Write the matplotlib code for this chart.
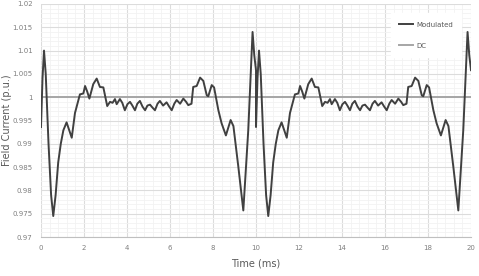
import numpy as np
import matplotlib
matplotlib.use("Agg")
import matplotlib.pyplot as plt
from matplotlib.ticker import MultipleLocator

# one 10 ms period of the modulated field current
t_period = [0, 0.07, 0.14, 0.22, 0.35, 0.47, 0.57, 0.68, 0.8, 0.92, 1.04, 1.19, 1.32,
            1.43, 1.58, 1.81, 1.97, 2.05, 2.15, 2.25, 2.43, 2.59, 2.74, 2.9, 3.08,
            3.21, 3.33, 3.44, 3.52, 3.67, 3.78, 3.9, 4.02, 4.14, 4.25, 4.37, 4.48,
            4.6, 4.72, 4.84, 4.95, 5.07, 5.18, 5.3, 5.42, 5.53, 5.68, 5.84, 5.96,
            6.08, 6.2, 6.31, 6.47, 6.62, 6.75, 6.85, 7.0, 7.08, 7.24, 7.4, 7.55,
            7.71, 7.78, 7.94, 8.05, 8.25, 8.4, 8.6, 8.82, 8.95, 9.18, 9.41, 9.64,
            9.84, 9.92, 10.0]
i_period = [0.9936, 1.004, 1.010, 1.005, 0.990, 0.979, 0.9745, 0.979, 0.986, 0.990,
            0.9929, 0.9946, 0.9928, 0.9913, 0.9966, 1.0006, 1.0008, 1.0024, 1.0012,
            0.9997, 1.0028, 1.0040, 1.0022, 1.0021, 0.9981, 0.9990, 0.9988, 0.9996,
            0.9985, 0.9996, 0.9988, 0.9972, 0.9985, 0.9990, 0.9982, 0.9972, 0.9986,
            0.9992, 0.9980, 0.9972, 0.9982, 0.9984, 0.9978, 0.9972, 0.9986, 0.9992,
            0.9982, 0.9989, 0.9980, 0.9972, 0.9986, 0.9994, 0.9986, 0.9997, 0.9990,
            0.9983, 0.9986, 1.0022, 1.0024, 1.0042, 1.0035, 1.0004, 1.0002, 1.0026,
            1.0021, 0.9972, 0.9944, 0.9918, 0.9951, 0.9938, 0.9850, 0.9757, 0.9929,
            1.0140, 1.0090, 1.0058]

# the chart shows two identical periods
t_mod = np.concatenate([t_period, np.array(t_period) + 10])
i_mod = np.concatenate([i_period, i_period])
t_dc = [0, 20]
i_dc = [1.0, 1.0]

fig = plt.figure(figsize=(4.79, 2.76), dpi=100)
ax = fig.add_axes([41/479, 39/276, 430/479, 233/276])

ax.set_xlim(0, 20)
ax.set_ylim(0.97, 1.02)
ax.xaxis.set_major_locator(MultipleLocator(2))
ax.xaxis.set_minor_locator(MultipleLocator(0.4))
ax.yaxis.set_major_locator(MultipleLocator(0.005))
ax.yaxis.set_minor_locator(MultipleLocator(0.001))
ax.yaxis.set_major_formatter(plt.FuncFormatter(lambda v, p: f"{v:g}"))

ax.grid(which='major', color='#dcdcdc', lw=0.8)
ax.grid(which='minor', color='#f2f2f2', lw=0.6)
ax.set_axisbelow(True)

for s in ['top', 'right', 'left']:
    ax.spines[s].set_visible(False)
ax.spines['bottom'].set_color('#bfbfbf')
ax.tick_params(which='both', length=0, labelsize=5, labelcolor='#7f7f7f', pad=6)

ax.plot(t_dc, i_dc, color='#a6a6a6', lw=1.4, label='DC', zorder=2)
ax.plot(t_mod, i_mod, color='#404040', lw=1.4, label='Modulated', zorder=3)

handles, labels = ax.get_legend_handles_labels()
leg = ax.legend(handles[::-1], labels[::-1], loc='upper right',
                bbox_to_anchor=(0.985, 0.975), fontsize=5, frameon=True,
                handlelength=2.0, labelspacing=2.2, borderpad=1.2,
                handletextpad=0.4, fancybox=False)
leg.get_frame().set_edgecolor('white')
leg.get_frame().set_facecolor('white')
leg.get_frame().set_alpha(1)
for txt in leg.get_texts():
    txt.set_color('#595959')

ax.set_xlabel('Time (ms)', fontsize=7, color='#595959', labelpad=5)
ax.set_ylabel('Field Current (p.u.)', fontsize=7, color='#595959')
ax.yaxis.set_label_coords(-0.068, 0.5)

fig.savefig('out.png', dpi=100)
